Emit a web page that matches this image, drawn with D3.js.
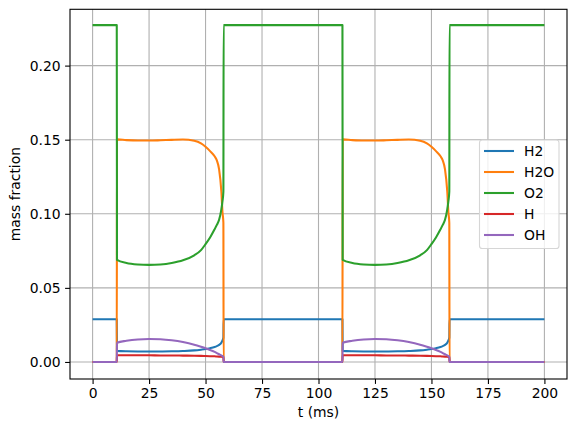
<!DOCTYPE html>
<meta charset="utf-8"/>
<head>
<style>
  body { margin:0; background:#fff; }
  text { font-family:"DejaVu Sans", sans-serif; font-size:13.9px; fill:#000; }
</style>
<script src="https://d3js.org/d3.v7.min.js" charset="utf-8"></script>
</head>
<body>
<script>

// time samples (ms), both cycles
var t = [0, 10.7,
  10.8, 15, 20, 25, 30, 35, 40, 45, 48, 50, 52, 54, 55, 56, 57, 57.5, 57.9,
  58.0, 110.6,
  110.7, 115, 120, 125, 130, 135, 140, 145, 148, 150, 152, 154, 155, 156, 157, 157.5, 157.9,
  158.0, 200];

var H2 = [0.0288, 0.0288,
  0.0075, 0.0072, 0.0071, 0.0071, 0.0071, 0.0072, 0.0074, 0.0078, 0.0083, 0.0087, 0.0093, 0.0101, 0.0107, 0.0115, 0.0130, 0.0145, 0.0165,
  0.0288, 0.0288,
  0.0075, 0.0072, 0.0071, 0.0071, 0.0071, 0.0072, 0.0074, 0.0078, 0.0083, 0.0087, 0.0093, 0.0101, 0.0107, 0.0115, 0.0130, 0.0145, 0.0165,
  0.0288, 0.0288];

var H2O = [0, 0,
  0.1502, 0.1497, 0.1494, 0.1494, 0.1496, 0.1499, 0.1501, 0.1493, 0.1475, 0.1452, 0.1423, 0.1388, 0.1360, 0.1300, 0.1150, 0.1010, 0.0940,
  0, 0,
  0.1502, 0.1497, 0.1494, 0.1494, 0.1496, 0.1499, 0.1501, 0.1493, 0.1475, 0.1452, 0.1423, 0.1388, 0.1360, 0.1300, 0.1150, 0.1010, 0.0940,
  0, 0];

var O2 = [0.2273, 0.2273,
  0.0689, 0.0668, 0.0658, 0.0655, 0.0658, 0.0668, 0.0686, 0.0720, 0.0755, 0.0795, 0.0840, 0.0895, 0.0925, 0.0960, 0.1030, 0.1085, 0.1150,
  0.2273, 0.2273,
  0.0689, 0.0668, 0.0658, 0.0655, 0.0658, 0.0668, 0.0686, 0.0720, 0.0755, 0.0795, 0.0840, 0.0895, 0.0925, 0.0960, 0.1030, 0.1085, 0.1150,
  0.2273, 0.2273];

var H = [0, 0,
  0.0045, 0.0045, 0.0045, 0.0045, 0.0044, 0.0044, 0.0043, 0.0042, 0.0041, 0.0040, 0.0039, 0.0038, 0.0037, 0.0036, 0.0035, 0.0034, 0.0033,
  0, 0,
  0.0045, 0.0045, 0.0045, 0.0045, 0.0044, 0.0044, 0.0043, 0.0042, 0.0041, 0.0040, 0.0039, 0.0038, 0.0037, 0.0036, 0.0035, 0.0034, 0.0033,
  0, 0];

var OH = [0, 0,
  0.0130, 0.0143, 0.0152, 0.0155, 0.0153, 0.0146, 0.0134, 0.0116, 0.0102, 0.0092, 0.0081, 0.0068, 0.0060, 0.0052, 0.0044, 0.0040, 0.0036,
  0, 0,
  0.0130, 0.0143, 0.0152, 0.0155, 0.0153, 0.0146, 0.0134, 0.0116, 0.0102, 0.0092, 0.0081, 0.0068, 0.0060, 0.0052, 0.0044, 0.0040, 0.0036,
  0, 0];

var names = ["H2", "H2O", "O2", "H", "OH"];
var colors = ["#1f77b4", "#ff7f0e", "#2ca02c", "#d62728", "#9467bd"];
var xTicks = [0, 25, 50, 75, 100, 125, 150, 175, 200];
var yTicks = [0, 0.05, 0.10, 0.15, 0.20];

var width = 576, height = 432;
var mLeft = 70, mRight = 567, mTop = 9.3, mBottom = 379;

var svg = d3.select("body").append("svg")
  .attr("width", width)
  .attr("height", height);

var x = d3.scaleLinear().domain([-10, 210]).range([mLeft, mRight]);
var y = d3.scaleLinear().domain([-0.0115, 0.2380]).range([mBottom, mTop]);

// grid
svg.append("g").selectAll("line").data(xTicks).enter().append("line")
  .attr("x1", function(d){ return x(d); }).attr("x2", function(d){ return x(d); })
  .attr("y1", mTop).attr("y2", mBottom)
  .attr("stroke", "#b0b0b0").attr("stroke-width", 1.1);
svg.append("g").selectAll("line").data(yTicks).enter().append("line")
  .attr("y1", function(d){ return y(d); }).attr("y2", function(d){ return y(d); })
  .attr("x1", mLeft).attr("x2", mRight)
  .attr("stroke", "#b0b0b0").attr("stroke-width", 1.1);

// series
var series = [H2, H2O, O2, H, OH];
var line = d3.line()
  .x(function(d, i){ return x(t[i]); })
  .y(function(d){ return y(d); })
  .curve(d3.curveMonotoneX);

var plot = svg.append("g");
series.forEach(function(s, k){
  plot.append("path")
    .attr("d", line(s))
    .attr("fill", "none")
    .attr("stroke", colors[k])
    .attr("stroke-width", 2.08)
    .attr("stroke-linejoin", "round");
});

// axes
var xAxis = d3.axisBottom(x).tickValues(xTicks).tickSize(4.9).tickPadding(4.5)
  .tickFormat(d3.format("d"));
var gx = svg.append("g").attr("transform", "translate(0," + mBottom + ")").call(xAxis);
var yAxis = d3.axisLeft(y).tickValues(yTicks).tickSize(4.9).tickPadding(4.5)
  .tickFormat(d3.format(".2f"));
var gy = svg.append("g").attr("transform", "translate(" + mLeft + ",0)").call(yAxis);
[gx, gy].forEach(function(g){
  g.select(".domain").remove();
  g.selectAll("line").attr("stroke", "#000").attr("stroke-width", 1.1);
  g.selectAll("text").attr("font-family", "DejaVu Sans").attr("font-size", "13.9px").attr("fill", "#000");
});

// frame
svg.append("rect")
  .attr("x", mLeft).attr("y", mTop)
  .attr("width", mRight - mLeft).attr("height", mBottom - mTop)
  .attr("fill", "none").attr("stroke", "#000").attr("stroke-width", 1.1);

// labels
svg.append("text").attr("x", (mLeft + mRight) / 2).attr("y", 417)
  .attr("text-anchor", "middle").text("t (ms)");
svg.append("text").attr("transform", "translate(20," + (mTop + mBottom) / 2 + ") rotate(-90)")
  .attr("text-anchor", "middle").text("mass fraction");

// legend
var lg = svg.append("g");
lg.append("rect")
  .attr("x", 479.5).attr("y", 140).attr("width", 79.5).attr("height", 108.5)
  .attr("rx", 2.8)
  .attr("fill", "#fff").attr("fill-opacity", 0.8)
  .attr("stroke", "#d6d6d6").attr("stroke-width", 1.1);
names.forEach(function(n, k){
  var cy = 151 + k * 21;
  lg.append("line").attr("x1", 484).attr("x2", 514).attr("y1", cy).attr("y2", cy)
    .attr("stroke", colors[k]).attr("stroke-width", 2.08);
  lg.append("text").attr("x", 524).attr("y", cy + 5).text(n);
});

</script>
</body>
</html>
